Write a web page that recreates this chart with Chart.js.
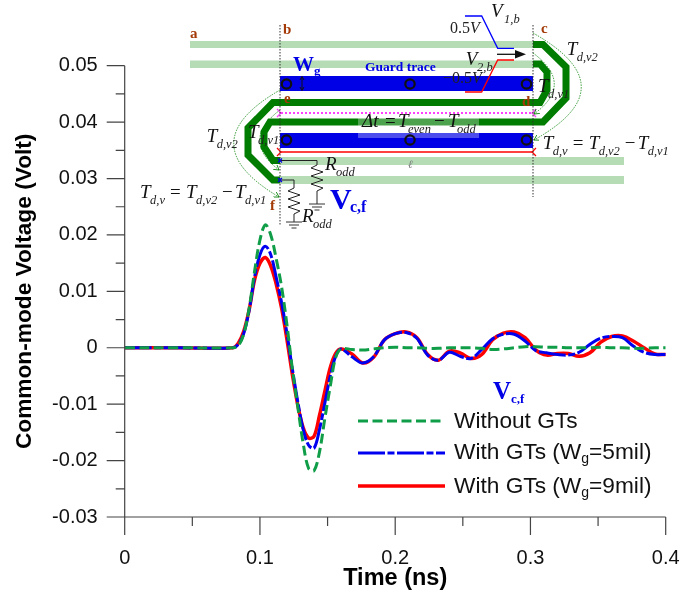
<!DOCTYPE html>
<html lang="en">
<head>
  <meta charset="UTF-8" />
  <title>Common-mode Voltage</title>
  <script src="https://cdn.jsdelivr.net/npm/chart.js"></script>
  <style>
    body { margin: 0; background: #fff; }
    #wrap { position: relative; width: 699px; height: 597px; overflow: hidden; }
    #chart { position: absolute; left: 0; top: 0; }
    #inset { position: absolute; left: 0; top: 0; }
    #inset text { font-family: 'Liberation Serif', serif; }
    .sym { font-style: italic; font-size: 19px; fill: #111; }
    .sub { font-style: italic; font-size: 12.5px; fill: #222; }
    .num { font-size: 16px; fill: #222; }
    .pt { font-weight: bold; font-size: 15px; fill: #a33a08; }
    .blue { font-weight: bold; fill: #0000e6; }
  </style>
</head>
<body>
  <div id="wrap">
    <canvas id="chart" width="699" height="597"></canvas>
    <svg id="inset" width="699" height="597" xmlns="http://www.w3.org/2000/svg"></svg>
  </div>

  <script>
    // values
    const timeNs = [0, 0.04, 0.08, 0.084, 0.088, 0.092, 0.096, 0.1, 0.104, 0.108, 0.112, 0.116, 0.12, 0.124, 0.128, 0.132, 0.136, 0.14, 0.144, 0.148, 0.152, 0.156, 0.16,
      0.168, 0.176, 0.184, 0.192, 0.2, 0.208, 0.216, 0.224, 0.232, 0.24, 0.248, 0.256, 0.264, 0.272, 0.28, 0.288, 0.296, 0.304, 0.312, 0.32, 0.328, 0.336, 0.344, 0.352, 0.36, 0.368, 0.376, 0.384, 0.392, 0.4];

    const withoutGts = [0, 0, 0, 0.0004, 0.0024, 0.007, 0.0135, 0.0191, 0.0218, 0.02, 0.0158, 0.0108, 0.004, -0.0038, -0.0105, -0.017, -0.0214, -0.0218, -0.0185, -0.0125, -0.0068, -0.0017, -0.0002,
      -0.0003, -0.0004, -0.0002, 0, 0.0001, 0, 0, -0.0001, -0.0001, 0, 0, 0, -0.0001, -0.0003, -0.0002, 0, 0.0002, 0.0002, 0.0001, 0.0001, 0, 0, 0, 0.0001, 0, 0, -0.0001, -0.0001, 0, 0];

    const gts5mil = [0, 0, 0, 0.0006, 0.0025, 0.0066, 0.0125, 0.0165, 0.018, 0.0165, 0.0125, 0.008, 0.0025, -0.0038, -0.0096, -0.0145, -0.0173, -0.0178, -0.0145, -0.0098, -0.005, -0.0015, -0.0002,
      -0.0016, -0.0027, -0.0016, 0.0014, 0.0025, 0.0027, 0.0017, -0.0013, -0.0022, -0.0008, -0.0015, -0.0019, -0.0003, 0.0016, 0.0024, 0.0024, 0.0012, -0.0005, -0.0009, -0.0012, -0.0013, -0.0008, 0.0006, 0.0017, 0.002, 0.0018, 0.0003, -0.0008, -0.0012, -0.0012];

    const gts9mil = [0, 0, 0, 0.0008, 0.0029, 0.0067, 0.012, 0.015, 0.016, 0.0145, 0.0113, 0.007, 0.0014, -0.0048, -0.0102, -0.0142, -0.016, -0.0157, -0.012, -0.0077, -0.0035, -0.001, -0.0002,
      -0.0011, -0.0027, -0.0017, 0.0014, 0.0025, 0.0028, 0.0018, -0.0012, -0.0022, -0.0006, -0.0009, -0.0019, -0.0012, 0.0014, 0.0026, 0.0028, 0.0018, -0.0004, -0.0013, -0.001, -0.001, -0.0015, -0.0009, 0.001, 0.002, 0.0021, 0.0012, 0, -0.0011, -0.0012];

    const xTickLabels = ['0', '0.1', '0.2', '0.3', '0.4'];
    const yTickLabels = ['0.05', '0.04', '0.03', '0.02', '0.01', '0', '-0.01', '-0.02', '-0.03'];
    const legendLabels = [['Without GTs'], ['With GTs (W', 'g', '=5mil)'], ['With GTs (W', 'g', '=9mil)']];

    const axisColor = '#444';
    const sansFont = "'Liberation Sans', Arial, sans-serif";

    function toPoints(values) {
      return values.map((v, i) => ({ x: timeNs[i], y: v }));
    }

    // Ticks of two lengths, Chart.js only has one tickLength
    const tickPlugin = {
      id: 'tickMarks',
      afterDatasetsDraw(chart) {
        const { ctx, scales: { x, y }, chartArea: a } = chart;
        ctx.save();
        ctx.strokeStyle = axisColor;
        ctx.lineWidth = 1.2;
        ctx.beginPath();
        y.ticks.forEach(t => {
          const py = y.getPixelForValue(t.value);
          ctx.moveTo(a.left, py);
          ctx.lineTo(a.left - (t.label ? 18 : 9), py);
        });
        x.ticks.forEach(t => {
          const px = x.getPixelForValue(t.value);
          ctx.moveTo(px, a.bottom);
          ctx.lineTo(px, a.bottom + (t.label ? 18 : 9));
        });
        ctx.moveTo(a.left, a.top);
        ctx.lineTo(a.left, a.bottom);
        ctx.moveTo(a.left, a.bottom);
        ctx.lineTo(a.right, a.bottom);
        ctx.stroke();
        ctx.restore();
      }
    };

    // Legend sits inside the plot and has a subscript
    const legendPlugin = {
      id: 'insideLegend',
      afterDraw(chart) {
        const ctx = chart.ctx;
        ctx.save();
        ctx.fillStyle = '#111';
        ctx.textBaseline = 'alphabetic';
        const rows = [[421, 428], [453, 459], [486, 493]];
        chart.data.datasets.forEach((ds, i) => {
          ctx.strokeStyle = ds.borderColor;
          ctx.lineWidth = ds.borderWidth;
          ctx.setLineDash(ds.borderDash || []);
          ctx.beginPath();
          ctx.moveTo(358, rows[i][0]);
          ctx.lineTo(445, rows[i][0]);
          ctx.stroke();
          ctx.setLineDash([]);
          let tx = 454;
          legendLabels[i].forEach((part, j) => {
            const isSub = j === 1;
            ctx.font = (isSub ? '14px ' : '22.7px ') + sansFont;
            ctx.fillText(part, tx, rows[i][1] + (isSub ? 4 : 0));
            tx += ctx.measureText(part).width;
          });
        });
        ctx.restore();
      }
    };

    new Chart(document.getElementById('chart'), {
      type: 'line',
      data: {
        datasets: [
          { label: 'Without GTs', data: toPoints(withoutGts), borderColor: '#0f9d48', borderWidth: 3, borderDash: [10, 4.5] },
          { label: 'With GTs (Wg=5mil)', data: toPoints(gts5mil), borderColor: '#0000f0', borderWidth: 3, borderDash: [27, 2.5, 7, 2.5] },
          { label: 'With GTs (Wg=9mil)', data: toPoints(gts9mil), borderColor: '#ff0000', borderWidth: 3.5 }
        ].map(d => Object.assign(d, { pointRadius: 0, tension: 0.35, fill: false }))
      },
      options: {
        responsive: false,
        animation: false,
        layout: { padding: { top: 65.7, right: 33.3, left: 0, bottom: 0 } },
        plugins: { legend: { display: false }, tooltip: { enabled: false } },
        scales: {
          x: {
            type: 'linear',
            min: 0,
            max: 0.4,
            afterFit: s => { s.height = 80; s.paddingLeft = 0; s.paddingRight = 0; },
            grid: { display: false, drawTicks: false },
            border: { display: false },
            title: { display: true, text: 'Time (ns)', font: { family: sansFont, size: 23.5, weight: 'bold' }, color: '#000', padding: { top: 0, bottom: 4 } },
            ticks: {
              stepSize: 0.05,
              autoSkip: false,
              maxRotation: 0,
              padding: 29,
              color: '#111',
              font: { family: sansFont, size: 20 },
              callback: v => { const s = String(+v.toFixed(2)); return xTickLabels.includes(s) ? s : ''; }
            }
          },
          y: {
            min: -0.03,
            max: 0.05,
            afterFit: s => { s.width = 124.7; },
            grid: { display: false, drawTicks: false },
            border: { display: false },
            title: { display: true, text: 'Common-mode Voltage (Volt)', font: { family: sansFont, size: 22.7, weight: 'bold' }, color: '#000', padding: { top: 11, bottom: 0 } },
            ticks: {
              stepSize: 0.005,
              autoSkip: false,
              padding: 27,
              color: '#111',
              font: { family: sansFont, size: 20 },
              callback: v => { const s = v.toFixed(3).replace(/0$/, ''); return Math.abs(v) < 1e-9 ? '0' : (Math.abs(v * 100 - Math.round(v * 100)) < 1e-6 && yTickLabels.includes(s) ? s : ''); }
            }
          }
        }
      },
      plugins: [tickPlugin, legendPlugin]
    });

    // Circuit sketch that sits on top of the plot
    function sym(x, y, s, sub) {
      let out = '<text class="sym" x="' + x + '" y="' + y + '">' + s + '</text>';
      if (sub) out += '<text class="sub" x="' + (x + 10) + '" y="' + (y + 6) + '">' + sub + '</text>';
      return out;
    }
    function equation(x, y) {
      return sym(x, y, 'T', 'd,v')
        + '<text class="sym" style="font-style:normal" x="' + (x + 30) + '" y="' + y + '">=</text>'
        + sym(x + 46, y, 'T', 'd,v2')
        + '<text class="sym" style="font-style:normal" x="' + (x + 82) + '" y="' + y + '">−</text>'
        + sym(x + 95, y, 'T', 'd,v1');
    }
    function circles(y) {
      return [286.5, 410, 526.5].map(x => '<circle cx="' + x + '" cy="' + y + '" r="4.7" fill="none" stroke="#111" stroke-width="2.2"/>').join('');
    }
    function band(x, y, w, h, color) {
      return '<rect x="' + x + '" y="' + y + '" width="' + w + '" height="' + h + '" fill="' + color + '"/>';
    }
    const coil = (x, y0) => {
      let d = 'M' + x + ' ' + y0;
      [[-6, 3], [6, 7], [-6, 11], [6, 15], [-6, 19], [6, 23], [0, 26]].forEach(p => { d += ' L' + (x + p[0]) + ' ' + (y0 + p[1]); });
      return d;
    };
    const ground = (x, y) => '<path d="M' + (x - 8) + ' ' + y + 'H' + (x + 8) + 'M' + (x - 5) + ' ' + (y + 3) + 'H' + (x + 5) + 'M' + (x - 2.5) + ' ' + (y + 6) + 'H' + (x + 2.5) + '" stroke="#333" fill="none"/>';

    document.getElementById('inset').innerHTML = `
      <defs>
        <marker id="hm" markerUnits="userSpaceOnUse" markerWidth="7" markerHeight="10" refX="1" refY="5" orient="auto-start-reverse"><path d="M5 1L1 5L5 9" fill="none" stroke="#ff40ff" stroke-width="1.3"/></marker>
        <marker id="hr" markerUnits="userSpaceOnUse" markerWidth="7" markerHeight="10" refX="1" refY="5" orient="auto-start-reverse"><path d="M5 1L1 5L5 9" fill="none" stroke="#ff0000" stroke-width="1.3"/></marker>
        <marker id="hg" markerUnits="userSpaceOnUse" markerWidth="6" markerHeight="6" refX="5" refY="3" orient="auto"><path d="M0 0L5 3L0 6" fill="none" stroke="#008000" stroke-width="0.8"/></marker>
      </defs>
      ${band(190, 41, 343, 7, '#b6dcb6')}
      ${band(190, 60.5, 343, 7.5, '#b6dcb6')}
      ${band(280, 157, 344, 8, '#b6dcb6')}
      ${band(280, 176, 344, 8, '#b6dcb6')}
      ${band(280, 76, 253, 15, '#0000e6')}
      ${band(280, 133, 253, 15, '#0000e6')}
      <g fill="none" stroke="#007c00" stroke-width="7">
        <path d="M533 44.5H543L566 67V98L543 122H270L264 132V147L273 160.5H280"/>
        <path d="M533 64H540L547 72V90L540 102.5H273L248 128V155L273 180H280"/>
      </g>
      ${band(358, 118, 121, 20, 'rgba(255,255,255,0.3)')}
      ${circles(84)}${circles(140)}
      <path d="M281 113H532" stroke="#ff40ff" stroke-width="2" stroke-dasharray="2 2" marker-start="url(#hm)" marker-end="url(#hm)"/>
      <path d="M281 152H532" stroke="#ff0000" stroke-width="1.5" marker-start="url(#hr)" marker-end="url(#hr)"/>
      <path d="M280 25V226M533 25V197" stroke="#333" stroke-width="1" stroke-dasharray="1.5 1.5"/>
      <g fill="none" stroke="#008000" stroke-width="0.8" stroke-dasharray="1.5 1.2">
        <path d="M280 90Q188 143 279 197" marker-end="url(#hg)"/>
        <path d="M280 110Q240 140 279 170" marker-end="url(#hg)"/>
        <path d="M533 33Q629 87 534 140" marker-end="url(#hg)"/>
        <path d="M533 53Q575 84 534 114" marker-end="url(#hg)"/>
      </g>
      <path d="M302 77V90M300 80L302 76.5L304 80M300 87L302 90.5L304 87" fill="none" stroke="#111" stroke-width="1"/>
      <path d="M465 16H481.7L497.7 48.3H514" fill="none" stroke="#0000ff" stroke-width="1.3"/>
      <path d="M465 92H481.7L497.7 60H514" fill="none" stroke="#ff0000" stroke-width="1.3"/>
      <path d="M497 54.3H517" stroke="#111" stroke-width="1.3"/>
      <path d="M515 50L526 54.3L515 58.6Z" fill="#111"/>
      <g fill="none" stroke="#222" stroke-width="1">
        <path d="M280 160.5H317V165"/>
        <path d="${coil(317, 165)}V204"/>
        <path d="M280 180H294V188"/>
        <path d="${coil(294, 188)}V222"/>
      </g>
      ${ground(317, 204)}${ground(294, 222)}
      <path d="M278 158.5L282 162.5M282 158.5L278 162.5M278 178L282 182M282 178L278 182" stroke="#0000e6" stroke-width="1.2"/>
      <text class="pt" x="190" y="38">a</text>
      <text class="pt" x="283" y="34">b</text>
      <text class="pt" x="541" y="33">c</text>
      <text class="pt" x="522" y="106">d</text>
      <text class="pt" x="284" y="103">e</text>
      <text class="pt" x="270" y="210">f</text>
      <text class="blue" x="293" y="71" style="font-size:21px">W</text>
      <text class="blue" x="314" y="75" style="font-size:13px">g</text>
      <text class="blue" x="365" y="71" style="font-size:13.5px">Guard trace</text>
      ${sym(491, 17, 'V', '')}<text class="sub" x="504" y="23">1,b</text>
      <text class="num" x="450" y="33">0.5<tspan font-style="italic">V</tspan></text>
      ${sym(465.7, 65, 'V', '')}<text class="sub" x="477" y="71">2,b</text>
      <text class="num" x="443" y="83">−0.5<tspan font-style="italic">V</tspan></text>
      ${sym(566.7, 55, 'T', 'd,v2')}
      ${sym(538, 92, 'T', 'd,v1')}
      ${equation(542.7, 149)}
      ${sym(206.7, 142, 'T', 'd,v2')}
      ${sym(248, 138, 'T', 'd,v1')}
      ${equation(140, 198)}
      <text class="sym" x="362" y="127">Δ<tspan>t</tspan></text>
      <text class="sym" style="font-style:normal" x="385" y="127">=</text>
      ${sym(398, 127, 'T', '')}<text class="sub" x="408" y="133">even</text>
      <text class="sym" style="font-style:normal" x="434" y="127">−</text>
      ${sym(448, 127, 'T', '')}<text class="sub" x="457" y="133">odd</text>
      <text x="408" y="168" style="font-size:11px;font-style:italic;fill:#777">ℓ</text>
      ${sym(325, 170, 'R', '')}<text class="sub" x="336" y="176">odd</text>
      ${sym(302, 222, 'R', '')}<text class="sub" x="313" y="228">odd</text>
      <text class="blue" x="330" y="209" style="font-size:30px">V</text>
      <text class="blue" x="350" y="212" style="font-size:16px">c,f</text>
      <text class="blue" x="493" y="399" style="font-size:25px">V</text>
      <text class="blue" x="511" y="403" style="font-size:13px">c,f</text>
    `;
  </script>
</body>
</html>
